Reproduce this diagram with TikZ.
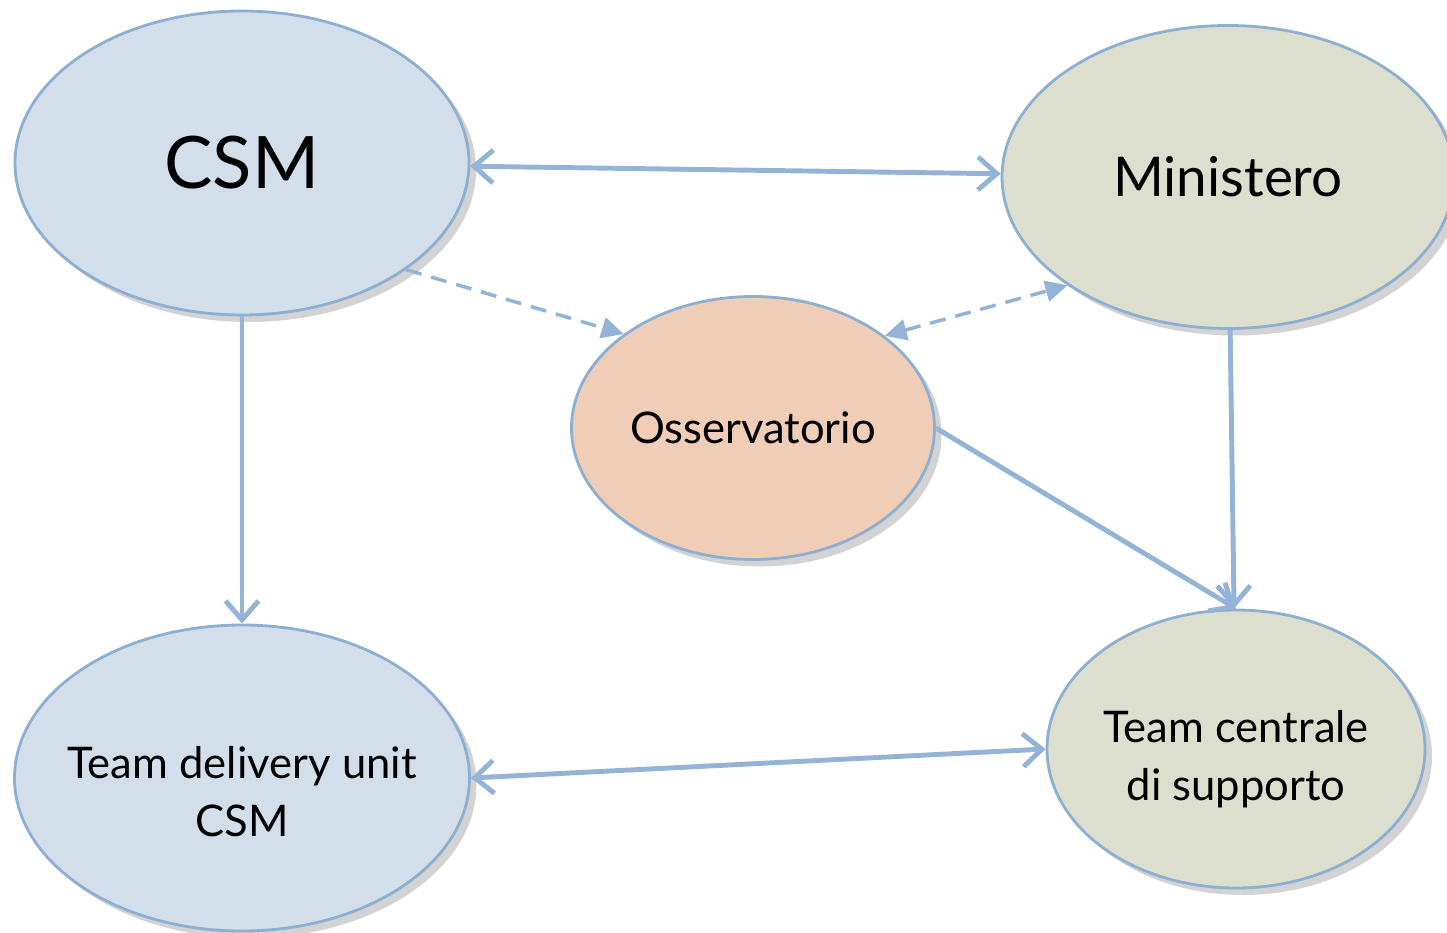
\documentclass[tikz,border=0pt]{standalone}
\usepackage{fontspec}
\setmainfont{Lato}
\usetikzlibrary{shapes.geometric,arrows.meta,shadows}
\definecolor{csmblue}{RGB}{211,222,235}
\definecolor{minsage}{RGB}{221,223,206}
\definecolor{osspeach}{RGB}{240,205,182}
\definecolor{edgeblue}{RGB}{140,175,210}
\definecolor{linkblue}{RGB}{147,180,214}
\tikzset{line/.style={draw=linkblue, line width=1.4pt, -{Straight Barb[length=1.9mm,width=3.3mm]}}}
\tikzset{dline/.style={draw=linkblue, line width=1pt, dash pattern=on 1.6mm off 1.0mm, -{Triangle[length=2.2mm,width=2.1mm]}}}

\begin{document}
\begin{tikzpicture}
\tikzstyle{blob} = [ellipse, draw=edgeblue, line width=0.8pt, inner sep=0pt, align=center, drop shadow={opacity=0.35, shadow xshift=0.07cm, shadow yshift=-0.07cm}]

\useasboundingbox (0,0) rectangle (14.47,9.32);

\node [blob, fill=csmblue, minimum width=4.54cm, minimum height=3.04cm, font=\fontsize{20.6}{24}\selectfont] (csm) at (2.42,7.69) {CSM};
\node [blob, fill=minsage, minimum width=4.52cm, minimum height=3.03cm, font=\fontsize{15.6}{20}\selectfont] (min) at (12.28,7.55) {Ministero};
\node [blob, fill=osspeach, minimum width=3.63cm, minimum height=2.63cm, font=\fontsize{12.4}{16}\selectfont] (oss) at (7.53,5.04) {Osservatorio};
\node [blob, fill=csmblue, minimum width=4.55cm, minimum height=3.06cm,
  label={[align=center, yshift=-0.14cm, font=\fontsize{12.4}{16.5}\selectfont]center:Team delivery unit\\CSM}] (tdu) at (2.42,1.54) {};
\node [blob, fill=minsage, minimum width=3.78cm, minimum height=2.78cm,
  label={[align=center, yshift=-0.1cm, font=\fontsize{12.4}{16.5}\selectfont]center:Team centrale\\di supporto}] (tcs) at (12.36,1.83) {};

\path [line, {Straight Barb[length=1.9mm,width=3.3mm]}-{Straight Barb[length=1.9mm,width=3.3mm]}] (csm) -- (min);
\path [line] (csm) -- (tdu);
\path [line] (min) -- (tcs);
\path [line] (oss.east) -- (tcs.north);
\path [line, {Straight Barb[length=1.9mm,width=3.3mm]}-{Straight Barb[length=1.9mm,width=3.3mm]}] (tdu.east) -- (tcs.west);
\path [dline] (csm.-33) -- (oss.144);
\path [dline, {Triangle[length=2.2mm,width=2.1mm]}-{Triangle[length=2.2mm,width=2.1mm]}] (oss.35) -- (min.-146.5);

\end{tikzpicture}
\end{document}
